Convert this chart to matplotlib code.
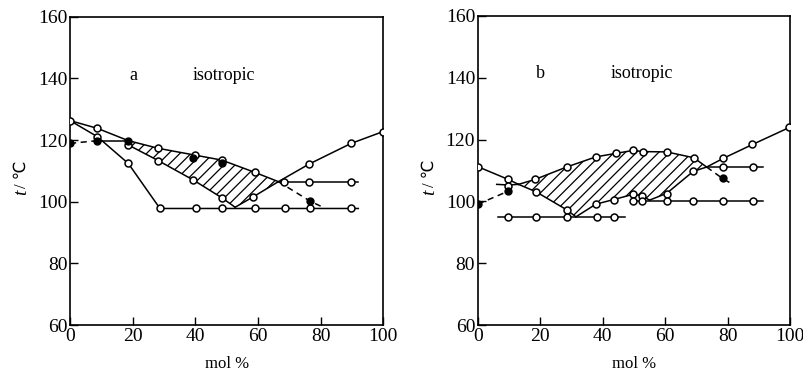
import numpy as np
import matplotlib.pyplot as plt

plt.rcParams['font.family'] = ['Liberation Serif', 'DejaVu Sans', 'Noto Sans CJK JP']
plt.rcParams['hatch.linewidth'] = 0.9

# ---- panel a ----
a_upper_x = [0, 8.7, 18.6, 28.2, 39.9, 48.4, 59.0, 66.5]
a_upper_y = [126.3, 123.8, 119.8, 117.3, 115.1, 113.5, 109.5, 106.5]
a_lower_x = [18.6, 28.2, 39.4, 48.4, 52.7]
a_lower_y = [118.4, 113.3, 107.0, 101.3, 98.2]
a_right_x = [52.7, 58.5, 66.5, 76.3, 89.7, 99.8]
a_right_y = [98.2, 101.6, 106.5, 112.2, 118.9, 122.7]
a_shelf_x = [8.7, 18.6]
a_shelf_y = [119.8, 119.8]
a_steep_x = [0, 8.7, 18.6, 28.7, 40.1, 48.4, 59.0, 68.6, 76.6, 89.7, 92]
a_steep_y = [126.3, 121.1, 112.4, 97.8, 97.8, 97.8, 97.8, 97.8, 97.8, 97.8, 97.8]
a_mid_x = [66.5, 68.3, 76.3, 89.7, 92]
a_mid_y = [106.5, 106.5, 106.5, 106.5, 106.5]
a_dash1_x = [0, 8.7]
a_dash1_y = [118.9, 119.8]
a_dash2_x = [66.5, 76.6, 80.3]
a_dash2_y = [106.5, 100.2, 98.4]
a_filled_x = [0, 8.7, 18.6, 39.4, 48.4, 76.6]
a_filled_y = [118.9, 119.8, 119.8, 114.1, 112.4, 100.2]
a_open_x = [0, 8.7, 8.7, 18.6, 18.6, 28.2, 28.2, 28.7, 39.9, 39.4, 40.1, 48.4, 48.4, 48.4,
            59.0, 58.5, 59.0, 68.3, 68.6, 76.3, 76.3, 76.6, 89.7, 89.7, 89.7, 99.8]
a_open_y = [126.3, 123.8, 121.1, 118.4, 112.4, 117.3, 113.3, 97.8, 115.1, 107.0, 97.8, 113.5, 101.3, 97.8,
            109.5, 101.6, 97.8, 106.5, 97.8, 112.2, 106.5, 97.8, 118.9, 106.5, 97.8, 122.7]

# ---- panel b ----
b_left_x = [0, 9.7, 13.0]
b_left_y = [111.2, 107.1, 105.5]
b_short_x = [6.0, 9.7, 13.0]
b_short_y = [105.5, 105.3, 105.5]
b_upper_x = [13.0, 18.3, 28.4, 37.8, 44.1, 49.8, 52.8, 60.5, 69.2, 73.3]
b_upper_y = [105.5, 107.1, 111.1, 114.4, 115.5, 116.5, 116.1, 116.0, 114.1, 111.1]
b_lowleft_x = [13.0, 18.6, 28.4, 31.4]
b_lowleft_y = [105.5, 103.1, 97.3, 95.0]
b_mid_x = [31.4, 37.8, 43.6, 49.8, 52.5, 55.0]
b_mid_y = [95.0, 99.1, 100.6, 102.3, 101.8, 100.4]
b_right_x = [55.0, 60.5, 69.0, 73.3, 78.6, 88.0, 99.8]
b_right_y = [100.4, 102.6, 109.7, 111.1, 113.9, 118.4, 123.9]
b_h100_x = [49.8, 52.5, 60.5, 69.0, 78.6, 88.2, 91.4]
b_h100_y = [100.1] * 7
b_h111_x = [73.3, 78.6, 88.2, 91.4]
b_h111_y = [111.1] * 4
b_h95_x = [6.5, 9.7, 18.6, 28.6, 38.0, 43.6, 47.1]
b_h95_y = [94.8] * 7
b_dash1_x = [0, 9.7]
b_dash1_y = [99.1, 103.3]
b_dash2_x = [73.3, 78.4, 80.8]
b_dash2_y = [111.1, 107.4, 106.0]
b_filled_x = [0, 9.7, 78.4]
b_filled_y = [99.1, 103.3, 107.4]
b_open_x = [0, 9.7, 9.7, 9.7, 18.3, 18.6, 18.6, 28.4, 28.4, 28.6, 37.8, 37.8, 38.0,
            44.1, 43.6, 43.6, 49.8, 49.8, 49.8, 52.8, 52.5, 52.5, 60.5, 60.5, 60.5,
            69.2, 69.0, 69.0, 78.6, 78.6, 78.6, 88.0, 88.2, 88.2, 99.8]
b_open_y = [111.2, 107.1, 105.0, 94.8, 107.1, 103.1, 94.8, 111.1, 97.3, 94.8, 114.4, 99.1, 94.8,
            115.5, 100.6, 94.8, 116.5, 102.3, 100.1, 116.1, 101.8, 100.1, 116.0, 102.3, 100.1,
            114.1, 109.7, 100.1, 113.9, 111.1, 100.1, 118.4, 111.1, 100.1, 123.9]

fig = plt.figure(figsize=(8.04, 3.72), dpi=100)
ax1 = fig.add_axes([0.0871, 0.1263, 0.3897, 0.8288])
ax2 = fig.add_axes([0.5945, 0.1263, 0.388, 0.831])

lw = 1.1
ms = 5


def solid(ax, x, y):
    ax.plot(x, y, color='black', lw=lw, zorder=2)


def dashed(ax, x, y):
    ax.plot(x, y, color='black', lw=lw, ls=(0, (4, 3)), zorder=2)


def hatch(ax, x, y):
    ax.fill(x, y, facecolor='white', edgecolor='black', hatch='///', lw=0, zorder=1)


# panel a
hatch(ax1, a_upper_x[2:] + a_right_x[2::-1][1:] + a_lower_x[::-1],
      a_upper_y[2:] + a_right_y[2::-1][1:] + a_lower_y[::-1])
for x, y in [(a_upper_x, a_upper_y), (a_lower_x, a_lower_y), (a_right_x, a_right_y),
             (a_shelf_x, a_shelf_y), (a_steep_x, a_steep_y), (a_mid_x, a_mid_y)]:
    solid(ax1, x, y)
dashed(ax1, a_dash1_x, a_dash1_y)
dashed(ax1, a_dash2_x, a_dash2_y)
ax1.plot(a_open_x, a_open_y, 'o', ms=ms, mfc='white', mec='black', mew=1.1, zorder=3)
ax1.plot(a_filled_x, a_filled_y, 'o', ms=ms, mfc='black', mec='black', zorder=4)
ax1.text(19, 139.5, 'a', fontsize=13)
ax1.text(39, 139.5, 'isotropic', fontsize=13)

# panel b
hatch(ax2, b_upper_x + b_right_x[3::-1][1:] + b_mid_x[::-1][1:] + b_lowleft_x[::-1][1:],
      b_upper_y + b_right_y[3::-1][1:] + b_mid_y[::-1][1:] + b_lowleft_y[::-1][1:])
for x, y in [(b_left_x, b_left_y), (b_short_x, b_short_y), (b_upper_x, b_upper_y),
             (b_lowleft_x, b_lowleft_y), (b_mid_x, b_mid_y), (b_right_x, b_right_y),
             (b_h100_x, b_h100_y), (b_h111_x, b_h111_y), (b_h95_x, b_h95_y)]:
    solid(ax2, x, y)
dashed(ax2, b_dash1_x, b_dash1_y)
dashed(ax2, b_dash2_x, b_dash2_y)
ax2.plot(b_open_x, b_open_y, 'o', ms=ms, mfc='white', mec='black', mew=1.1, zorder=3)
ax2.plot(b_filled_x, b_filled_y, 'o', ms=ms, mfc='black', mec='black', zorder=4)
ax2.text(18.5, 140, 'b', fontsize=13)
ax2.text(42.5, 140, 'isotropic', fontsize=13)

for ax in (ax1, ax2):
    ax.set_xlim(0, 100)
    ax.set_ylim(60, 160)
    ax.set_xticks(np.arange(0, 101, 20))
    ax.set_yticks(np.arange(60, 161, 20))
    ax.tick_params(direction='in', length=6, width=1, labelsize=14, pad=2)
    for s in ax.spines.values():
        s.set_linewidth(1.2)
    ax.set_xlabel('mol %', fontsize=12, labelpad=8)
    # y label: italic t, then "/ ℃"
    ax.text(-0.155, 0.43, 't', transform=ax.transAxes, rotation=90, style='italic',
            fontsize=14, ha='center', va='center')
    ax.text(-0.155, 0.49, '/ ℃', transform=ax.transAxes, rotation=90,
            fontsize=12, ha='center', va='center')

fig.savefig('out.png', dpi=100)
